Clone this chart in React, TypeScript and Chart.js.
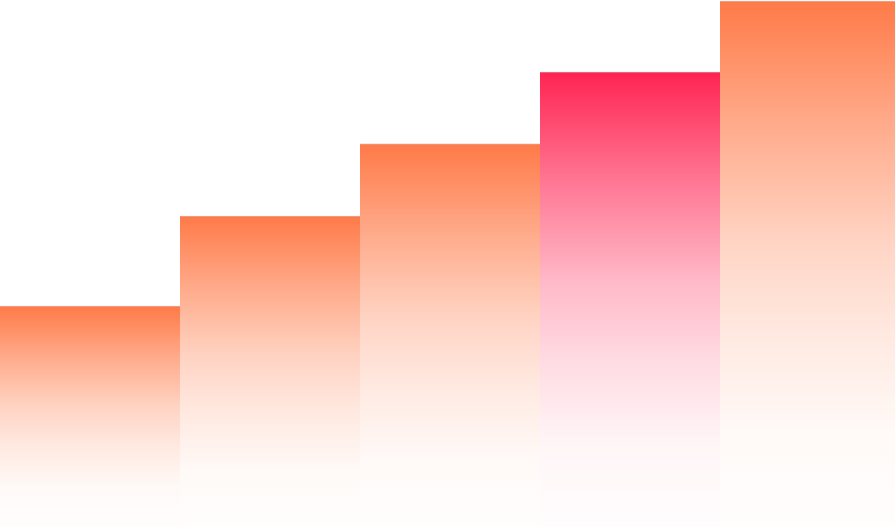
import { useEffect, useRef } from 'react';
import { Chart, registerables, type ScriptableContext } from 'chart.js';

Chart.register(...registerables);

const categories = ['1', '2', '3', '4', '5'];
const values = [41.9, 59.0, 72.7, 86.3, 99.8];
const highlightIndex = 3;

const ORANGE = [255, 122, 72];
const RED = [255, 36, 82];

// alpha fall-off down each bar
const fadeStops: [number, number][] = [
  [0, 1], [0.23, 0.64], [0.46, 0.32], [0.64, 0.16], [0.82, 0.045], [1, 0.01],
];

function rgba(c: number[], a: number) {
  return `rgba(${c[0]},${c[1]},${c[2]},${a})`;
}

function barFill(ctx: ScriptableContext<'bar'>) {
  const chart = ctx.chart;
  const area = chart.chartArea;
  const c = ctx.dataIndex === highlightIndex ? RED : ORANGE;
  if (!area) return rgba(c, 1);
  const y = chart.scales.y;
  const top = y.getPixelForValue(values[ctx.dataIndex]);
  const bottom = y.getPixelForValue(0);
  const g = chart.ctx.createLinearGradient(0, top, 0, bottom);
  for (const [at, a] of fadeStops) g.addColorStop(at, rgba(c, a));
  return g;
}

export default function App() {
  const canvasRef = useRef<HTMLCanvasElement>(null);

  useEffect(() => {
    document.body.style.margin = '0';
    if (!canvasRef.current) return;
    const chart = new Chart(canvasRef.current, {
      type: 'bar',
      data: {
        labels: categories,
        datasets: [{
          data: values,
          backgroundColor: barFill,
          borderColor: (c) => c.dataIndex === highlightIndex ? 'rgba(200,40,70,0.6)' : 'rgba(210,95,60,0.55)',
          borderWidth: { top: 1, left: 0, right: 0, bottom: 0 },
          borderSkipped: false,
          categoryPercentage: 1,
          barPercentage: 1,
        }],
      },
      options: {
        responsive: false,
        animation: false,
        layout: { padding: 0 },
        scales: {
          x: { display: false },
          y: { display: false, min: 0, max: 100 },
        },
        plugins: {
          legend: { display: false },
          tooltip: { enabled: false },
        },
      },
    });
    return () => chart.destroy();
  }, []);

  return (
    <div style={{ width: 895, height: 527, overflow: 'hidden', background: '#fff' }}>
      <canvas ref={canvasRef} width={900} height={527} style={{ display: 'block', width: 900, height: 527 }} />
    </div>
  );
}
